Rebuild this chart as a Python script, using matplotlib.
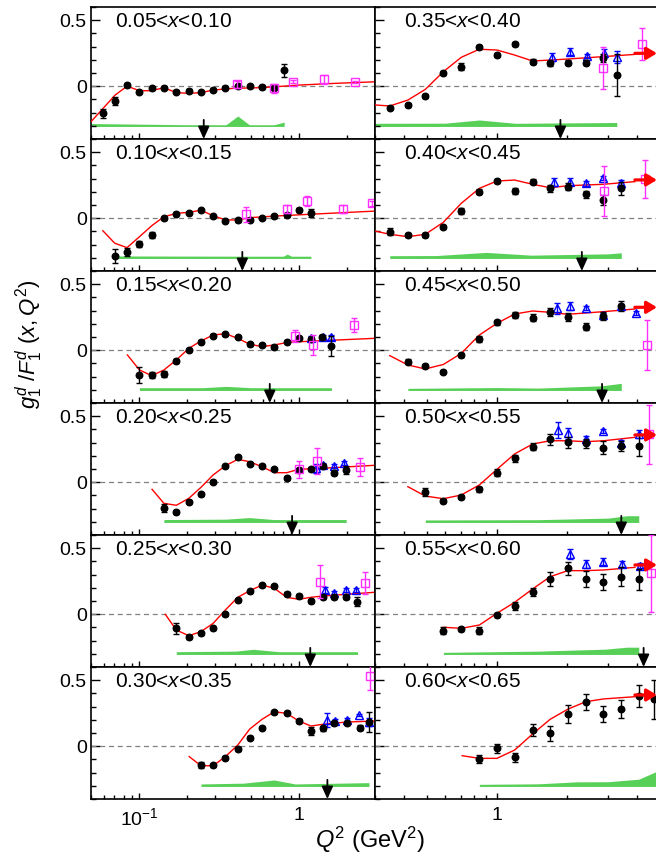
import matplotlib
matplotlib.use("Agg")
import matplotlib.pyplot as plt
from matplotlib.ticker import FixedLocator, LogLocator, MultipleLocator, NullFormatter

plt.rcParams['font.family'] = ['Liberation Sans', 'DejaVu Sans']
plt.rcParams['mathtext.fontset'] = 'custom'
plt.rcParams['mathtext.rm'] = 'Liberation Sans'
plt.rcParams['mathtext.it'] = 'Liberation Sans:italic'
plt.rcParams['mathtext.bf'] = 'Liberation Sans:bold'

# ── x bins (left column top->bottom, then right column) ─────────────────────
BINS = ['0.05<$x$<0.10', '0.10<$x$<0.15', '0.15<$x$<0.20', '0.20<$x$<0.25',
        '0.25<$x$<0.30', '0.30<$x$<0.35', '0.35<$x$<0.40', '0.40<$x$<0.45',
        '0.45<$x$<0.50', '0.50<$x$<0.55', '0.55<$x$<0.60', '0.60<$x$<0.65']

# ── black points (this measurement) ──────────────────────────────────────────
BLK_Q = [
    [0.0593, 0.0705, 0.0841, 0.1006, 0.120, 0.143, 0.171, 0.205, 0.244, 0.291, 0.347, 0.415, 0.493, 0.589, 0.703, 0.812],
    [0.0711, 0.0841, 0.1006, 0.120, 0.143, 0.171, 0.205, 0.244, 0.291, 0.347, 0.415, 0.493, 0.589, 0.703, 0.84, 1.0, 1.19],
    [0.1006, 0.120, 0.143, 0.171, 0.205, 0.244, 0.291, 0.347, 0.415, 0.493, 0.589, 0.703, 0.84, 1.0, 1.19, 1.40, 1.60],
    [0.143, 0.171, 0.205, 0.244, 0.291, 0.347, 0.415, 0.493, 0.589, 0.703, 0.84, 1.0, 1.19, 1.42, 1.67, 1.98],
    [0.171, 0.205, 0.244, 0.291, 0.347, 0.415, 0.493, 0.589, 0.703, 0.84, 1.0, 1.19, 1.42, 1.67, 1.98, 2.33],
    [0.244, 0.291, 0.347, 0.415, 0.493, 0.589, 0.703, 0.84, 1.0, 1.19, 1.42, 1.67, 1.99, 2.40, 2.75],
    [0.347, 0.415, 0.493, 0.589, 0.703, 0.84, 1.0, 1.19, 1.42, 1.69, 2.01, 2.40, 2.86, 3.26],
    [0.347, 0.415, 0.493, 0.589, 0.703, 0.84, 1.0, 1.19, 1.42, 1.69, 2.01, 2.40, 2.86, 3.41],
    [0.415, 0.493, 0.589, 0.703, 0.84, 1.0, 1.19, 1.42, 1.69, 2.01, 2.40, 2.86, 3.41],
    [0.493, 0.589, 0.703, 0.84, 1.0, 1.19, 1.42, 1.69, 2.01, 2.40, 2.86, 3.41, 4.05],
    [0.589, 0.703, 0.84, 1.0, 1.19, 1.42, 1.69, 2.01, 2.40, 2.86, 3.41, 4.05],
    [0.84, 1.0, 1.19, 1.42, 1.69, 2.01, 2.40, 2.86, 3.41, 4.05, 4.73],
]
BLK_G = [
    [-0.205, -0.112, 0.009, -0.042, -0.016, -0.011, -0.042, -0.034, -0.044, -0.026, -0.011, -0.002, -0.002, -0.006, -0.011, 0.120],
    [-0.286, -0.253, -0.195, -0.127, -0.001, 0.034, 0.039, 0.060, 0.017, -0.019, -0.016, -0.011, 0.002, 0.014, 0.024, 0.062, 0.037],
    [-0.188, -0.188, -0.180, -0.079, 0.002, 0.065, 0.110, 0.120, 0.100, 0.045, 0.040, 0.024, 0.065, 0.090, 0.085, 0.097, 0.034],
    [-0.193, -0.226, -0.147, -0.092, 0.004, 0.123, 0.189, 0.140, 0.125, 0.100, 0.030, 0.092, 0.100, 0.125, 0.072, 0.092],
    [-0.107, -0.170, -0.145, -0.107, -0.001, 0.105, 0.173, 0.219, 0.211, 0.153, 0.140, 0.102, 0.130, 0.130, 0.128, 0.095],
    [-0.142, -0.145, -0.087, -0.021, 0.065, 0.140, 0.257, 0.254, 0.191, 0.115, 0.136, 0.173, 0.178, 0.140, 0.186],
    [-0.163, -0.142, -0.074, 0.098, 0.148, 0.297, 0.234, 0.322, 0.186, 0.173, 0.178, 0.178, 0.216, 0.085],
    [-0.102, -0.127, -0.127, -0.064, 0.055, 0.201, 0.282, 0.206, 0.277, 0.226, 0.239, 0.181, 0.138, 0.226],
    [-0.087, -0.120, -0.163, -0.036, 0.085, 0.211, 0.267, 0.246, 0.292, 0.254, 0.178, 0.259, 0.335],
    [-0.072, -0.142, -0.114, -0.054, 0.072, 0.181, 0.269, 0.325, 0.302, 0.295, 0.261, 0.274, 0.277],
    [-0.125, -0.114, -0.125, -0.006, 0.065, 0.171, 0.267, 0.348, 0.267, 0.246, 0.284, 0.264],
    [-0.099, -0.016, -0.084, 0.123, 0.098, 0.241, 0.337, 0.244, 0.280, 0.380, 0.355],
]
BLK_E = [
    [0.035, 0.03, 0.012, 0.012, 0.01, 0.01, 0.01, 0.01, 0.01, 0.01, 0.01, 0.012, 0.012, 0.015, 0.02, 0.05],
    [0.05, 0.03, 0.025, 0.025, 0.012, 0.01, 0.01, 0.01, 0.01, 0.01, 0.01, 0.01, 0.01, 0.01, 0.012, 0.012, 0.03],
    [0.063, 0.025, 0.025, 0.015, 0.01, 0.01, 0.01, 0.01, 0.01, 0.01, 0.01, 0.012, 0.012, 0.012, 0.015, 0.015, 0.076],
    [0.03, 0.015, 0.012, 0.012, 0.01, 0.01, 0.01, 0.01, 0.01, 0.01, 0.015, 0.015, 0.015, 0.015, 0.02, 0.03],
    [0.04, 0.015, 0.012, 0.012, 0.01, 0.01, 0.01, 0.01, 0.01, 0.012, 0.015, 0.015, 0.015, 0.015, 0.015, 0.035],
    [0.02, 0.012, 0.012, 0.012, 0.01, 0.01, 0.01, 0.01, 0.015, 0.03, 0.02, 0.015, 0.015, 0.02, 0.076],
    [0.012, 0.012, 0.012, 0.015, 0.025, 0.015, 0.015, 0.015, 0.02, 0.02, 0.02, 0.02, 0.03, 0.16],
    [0.025, 0.012, 0.012, 0.012, 0.02, 0.02, 0.015, 0.02, 0.02, 0.025, 0.025, 0.025, 0.04, 0.05],
    [0.02, 0.012, 0.012, 0.015, 0.02, 0.02, 0.02, 0.025, 0.03, 0.03, 0.025, 0.03, 0.035],
    [0.03, 0.012, 0.015, 0.02, 0.025, 0.025, 0.025, 0.04, 0.04, 0.035, 0.05, 0.04, 0.08],
    [0.025, 0.015, 0.025, 0.015, 0.03, 0.03, 0.05, 0.05, 0.06, 0.06, 0.07, 0.08],
    [0.03, 0.035, 0.033, 0.045, 0.056, 0.068, 0.06, 0.063, 0.07, 0.08, 0.146],
]

# ── blue open triangles ──────────────────────────────────────────────────────
BLU_Q = [[], [], [1.19, 1.42, 1.60], [1.28, 1.42, 1.67, 1.93], [1.45, 1.67, 1.98, 2.29],
         [1.51, 1.68, 1.99, 2.39, 2.75], [1.72, 2.05, 2.42, 2.87, 3.26],
         [1.76, 2.06, 2.40, 2.86, 3.41], [1.80, 2.06, 2.40, 2.86, 3.41, 3.95],
         [1.82, 2.01, 2.40, 2.86, 3.41, 4.05], [2.06, 2.40, 2.86, 3.43, 4.10], []]
BLU_G = [[], [], [0.090, 0.097, 0.097], [0.105, 0.130, 0.123, 0.143], [0.183, 0.163, 0.183, 0.183],
         [0.198, 0.193, 0.198, 0.236, 0.186], [0.219, 0.261, 0.229, 0.249, 0.224],
         [0.277, 0.277, 0.264, 0.302, 0.269], [0.317, 0.337, 0.322, 0.267, 0.335, 0.284],
         [0.395, 0.370, 0.325, 0.388, 0.295, 0.363], [0.456, 0.380, 0.398, 0.380, 0.368], []]
BLU_E = [[], [], [0.015, 0.015, 0.02], [0.033, 0.015, 0.015, 0.015], [0.025, 0.015, 0.015, 0.015],
         [0.055, 0.015, 0.015, 0.01, 0.03], [0.03, 0.025, 0.015, 0.035, 0.045],
         [0.03, 0.025, 0.02, 0.015, 0.02], [0.04, 0.03, 0.015, 0.015, 0.015, 0.015],
         [0.06, 0.04, 0.025, 0.015, 0.025, 0.03], [0.04, 0.03, 0.025, 0.025, 0.02], []]

# ── magenta open squares ─────────────────────────────────────────────────────
MAG_Q = [[0.411, 0.703, 0.917, 1.44, 2.25], [0.466, 0.846, 1.127, 1.894, 2.89], [0.952, 1.234, 2.21],
         [1.0, 1.308, 2.43], [1.366, 2.61], [2.78], [2.86, 4.20], [2.87, 4.31], [4.39], [4.47], [4.58], []]
MAG_G = [[0.014, -0.016, 0.034, 0.052, 0.032], [0.030, 0.070, 0.133, 0.070, 0.113], [0.108, 0.040, 0.191],
         [0.098, 0.161, 0.117], [0.246, 0.234], [0.532], [0.136, 0.320], [0.206, 0.297], [0.039], [0.363], [0.310], []]
MAG_E = [[0.025, 0.035, 0.01, 0.035, 0.01], [0.056, 0.03, 0.038, 0.033, 0.02], [0.045, 0.076, 0.056],
         [0.063, 0.096, 0.07], [0.126, 0.083], [0.105], [0.16, 0.12], [0.187, 0.145], [0.187], [0.225], [0.29], []]

# ── model curve (red) ────────────────────────────────────────────────────────
MOD_Q = [
    [0.05, 0.0708, 0.0841, 0.1006, 0.120, 0.143, 0.171, 0.205, 0.244, 0.291, 0.39, 0.589, 1.02, 1.65, 3.08],
    [0.0593, 0.0705, 0.0841, 0.1006, 0.120, 0.143, 0.171, 0.205, 0.244, 0.291, 0.347, 0.415, 0.493, 0.703, 1.385, 3.14],
    [0.0845, 0.1006, 0.120, 0.143, 0.171, 0.205, 0.244, 0.291, 0.347, 0.415, 0.493, 0.589, 0.703, 0.86, 1.385, 2.99],
    [0.1206, 0.143, 0.171, 0.205, 0.244, 0.291, 0.347, 0.415, 0.493, 0.589, 0.703, 0.84, 1.0, 1.385, 2.99],
    [0.146, 0.171, 0.205, 0.244, 0.291, 0.347, 0.415, 0.493, 0.589, 0.703, 0.84, 1.0, 1.19, 1.42, 2.99],
    [0.206, 0.244, 0.291, 0.347, 0.415, 0.493, 0.589, 0.703, 0.84, 1.0, 1.19, 1.42, 1.99, 3.0],
    [0.30, 0.347, 0.415, 0.493, 0.589, 0.703, 0.84, 1.0, 1.19, 1.42, 1.69, 2.01, 2.86, 3.9],
    [0.30, 0.347, 0.415, 0.493, 0.589, 0.703, 0.84, 1.0, 1.19, 1.42, 1.69, 2.01, 2.86, 3.9],
    [0.347, 0.415, 0.493, 0.589, 0.703, 0.84, 1.0, 1.19, 1.42, 1.69, 2.01, 2.86, 3.9],
    [0.415, 0.493, 0.589, 0.703, 0.84, 1.0, 1.19, 1.42, 1.69, 2.01, 2.40, 2.86, 3.9],
    [0.589, 0.703, 0.84, 1.0, 1.19, 1.42, 1.69, 2.01, 2.40, 2.86, 3.9],
    [0.709, 0.84, 1.0, 1.19, 1.42, 1.69, 2.01, 2.40, 2.86, 3.9],
]
MOD_G = [
    [-0.269, -0.067, 0.0, -0.034, -0.034, -0.011, -0.049, -0.054, -0.049, -0.029, -0.016, -0.011, 0.009, 0.021, 0.034],
    [-0.095, -0.190, -0.223, -0.140, -0.057, 0.011, 0.036, 0.045, 0.060, 0.019, -0.013, -0.013, 0.004, 0.016, 0.034, 0.055],
    [-0.036, -0.150, -0.193, -0.150, -0.074, 0.014, 0.070, 0.115, 0.125, 0.090, 0.045, 0.027, 0.040, 0.060, 0.072, 0.090],
    [-0.054, -0.160, -0.175, -0.122, -0.039, 0.055, 0.125, 0.173, 0.155, 0.117, 0.072, 0.072, 0.098, 0.105, 0.128],
    [-0.001, -0.120, -0.163, -0.132, -0.069, 0.032, 0.128, 0.178, 0.221, 0.196, 0.128, 0.113, 0.128, 0.138, 0.166],
    [-0.079, -0.148, -0.148, -0.079, 0.009, 0.130, 0.204, 0.261, 0.249, 0.191, 0.153, 0.166, 0.183, 0.191],
    [-0.142, -0.150, -0.105, -0.024, 0.110, 0.219, 0.280, 0.274, 0.236, 0.191, 0.198, 0.206, 0.224, 0.241],
    [-0.097, -0.122, -0.140, -0.122, -0.031, 0.113, 0.226, 0.282, 0.289, 0.257, 0.231, 0.246, 0.257, 0.277],
    [-0.041, -0.112, -0.142, -0.108, -0.024, 0.115, 0.204, 0.274, 0.297, 0.287, 0.272, 0.292, 0.312],
    [-0.034, -0.105, -0.125, -0.097, -0.021, 0.098, 0.214, 0.289, 0.314, 0.314, 0.307, 0.314, 0.340],
    [-0.099, -0.107, -0.082, 0.007, 0.090, 0.191, 0.284, 0.330, 0.330, 0.335, 0.355],
    [-0.072, -0.092, -0.092, -0.029, 0.092, 0.204, 0.280, 0.337, 0.358, 0.375],
]
# high-Q2 limit of the model (red arrows, right column)
RED_ARROW = [None, None, None, None, None, None, 0.249, 0.290, 0.325, 0.358, 0.373, 0.388]

# ── systematic band (green) ──────────────────────────────────────────────────
BAND_LO = -0.305
BAND_Q = [
    [0.05, 0.20, 0.35, 0.415, 0.49, 0.70, 0.81],
    [0.072, 0.5, 0.80, 0.846, 0.90, 1.19],
    [0.1006, 0.25, 0.35, 0.50, 1.60],
    [0.143, 0.35, 0.49, 0.70, 1.98],
    [0.171, 0.40, 0.52, 0.75, 2.33],
    [0.244, 0.45, 0.70, 0.95, 2.75],
    [0.30, 0.60, 0.84, 1.2, 3.26],
    [0.347, 0.55, 0.90, 1.4, 3.0, 3.41],
    [0.415, 1.0, 1.5, 2.8, 3.41],
    [0.493, 1.5, 3.0, 3.6, 4.05],
    [0.589, 1.5, 2.9, 3.6, 4.05],
    [0.84, 1.5, 2.2, 3.0, 4.05, 4.8],
]
BAND_HI = [
    [-0.283, -0.292, -0.292, -0.226, -0.292, -0.292, -0.272],
    [-0.286, -0.288, -0.288, -0.272, -0.288, -0.288],
    [-0.284, -0.284, -0.274, -0.284, -0.284],
    [-0.283, -0.280, -0.268, -0.283, -0.283],
    [-0.284, -0.280, -0.266, -0.284, -0.284],
    [-0.286, -0.280, -0.256, -0.286, -0.276],
    [-0.281, -0.280, -0.256, -0.281, -0.275],
    [-0.284, -0.283, -0.259, -0.280, -0.270, -0.262],
    [-0.289, -0.283, -0.287, -0.270, -0.251],
    [-0.286, -0.284, -0.272, -0.254, -0.254],
    [-0.289, -0.280, -0.265, -0.250, -0.250],
    [-0.289, -0.285, -0.270, -0.269, -0.250, -0.193],
]

# W cut (black arrows)
W_ARROW = [0.254, 0.443, 0.658, 0.908, 1.18, 1.51, 1.87, 2.31, 2.82, 3.41, 4.25, None]

XLIM_LEFT = (0.05, 3.0)
XLIM_RIGHT = (0.30, 4.85)

# ── figure layout (pixel geometry of the original) ───────────────────────────
W, H = 656, 858
fig = plt.figure(figsize=(W / 100, H / 100), dpi=100)
COL_X = [(91, 375), (375, 657)]
ROW_TOP, ROW_H = 7, 132

GREEN = '#58d058'
MAGENTA = '#ff30ff'

for i, label in enumerate(BINS):
    col, row = divmod(i, 6)
    x0, x1 = COL_X[col]
    y0 = ROW_TOP + row * ROW_H
    ax = fig.add_axes([x0 / W, 1 - (y0 + ROW_H) / H, (x1 - x0) / W, ROW_H / H])

    ax.fill_between(BAND_Q[i], BAND_LO, BAND_HI[i], color=GREEN, lw=0, zorder=1)
    ax.axhline(0, color='#808080', lw=0.9, ls=(0, (4, 3)), zorder=2)
    ax.plot(MOD_Q[i], MOD_G[i], color='red', lw=1.0, zorder=3)

    ax.errorbar(BLK_Q[i], BLK_G[i], yerr=BLK_E[i], fmt='o', ms=4.7, mfc='black', mec='black',
                ecolor='black', elinewidth=1, capsize=2.5, capthick=1, zorder=6)
    if BLU_Q[i]:
        ax.errorbar(BLU_Q[i], BLU_G[i], yerr=BLU_E[i], fmt='^', ms=5.5, mfc='none', mec='blue',
                    mew=1, ecolor='blue', elinewidth=1, capsize=2.5, capthick=1, zorder=5)
    if MAG_Q[i]:
        ax.errorbar(MAG_Q[i], MAG_G[i], yerr=MAG_E[i], fmt='s', ms=5.5, mfc='none', mec=MAGENTA,
                    mew=1, ecolor=MAGENTA, elinewidth=1, capsize=2.5, capthick=1, zorder=7)

    xlim = XLIM_LEFT if col == 0 else XLIM_RIGHT
    if W_ARROW[i] is not None:
        ax.annotate('', xy=(W_ARROW[i], -0.40), xytext=(W_ARROW[i], -0.255),
                    arrowprops=dict(arrowstyle='-|>,head_width=0.34,head_length=0.75',
                                    color='black', lw=1.3, mutation_scale=10,
                                    shrinkA=0, shrinkB=0),
                    annotation_clip=False, zorder=8)
    if RED_ARROW[i] is not None:
        ax.annotate('', xy=(xlim[1], RED_ARROW[i]), xytext=(3.9, RED_ARROW[i]),
                    arrowprops=dict(arrowstyle='-|>,head_width=0.36,head_length=0.6',
                                    color='red', lw=2.3, mutation_scale=10,
                                    shrinkA=0, shrinkB=0),
                    annotation_clip=False, zorder=8)

    ax.text(0.085 if col == 0 else 0.103, 0.851, label, transform=ax.transAxes,
            fontsize=15, ha='left', va='baseline')

    ax.set_xscale('log')
    ax.set_xlim(*xlim)
    ax.set_ylim(-0.4, 0.6)

    ax.yaxis.set_major_locator(FixedLocator([0, 0.5]))
    ax.yaxis.set_minor_locator(MultipleLocator(0.1))
    if col == 0:
        ax.set_yticklabels(['0', '0.5'])
        ax.xaxis.set_major_locator(FixedLocator([0.1, 1]))
        xlabels = ['10$^{-1}$', '1']
    else:
        ax.tick_params(labelleft=False)
        ax.xaxis.set_major_locator(FixedLocator([1]))
        xlabels = ['1']
    ax.xaxis.set_minor_locator(LogLocator(base=10, subs=range(2, 10), numticks=20))
    ax.xaxis.set_minor_formatter(NullFormatter())
    if row == 5:
        ax.set_xticklabels(xlabels)
    else:
        ax.tick_params(labelbottom=False)

    ax.tick_params(which='both', direction='in', top=False, right=False, labelsize=14)
    ax.tick_params(axis='y', which='major', length=6.5, width=1, pad=3)
    ax.tick_params(axis='y', which='minor', length=3.6, width=1)
    ax.tick_params(axis='x', which='major', length=4.5, width=1, pad=6)
    ax.tick_params(axis='x', which='minor', length=3, width=1)
    for sp in ax.spines.values():
        sp.set_linewidth(1.2)

fig.text(29 / W, 1 - 344 / H, r'$g_1^d\ /F_1^d\ (x,Q^2)$', rotation=90,
         ha='center', va='center', fontsize=16)
fig.text(370 / W, 1 - 840 / H, r'$Q^2$ (GeV$^2$)', ha='center', va='center', fontsize=17)

fig.savefig('out.png', dpi=100)
